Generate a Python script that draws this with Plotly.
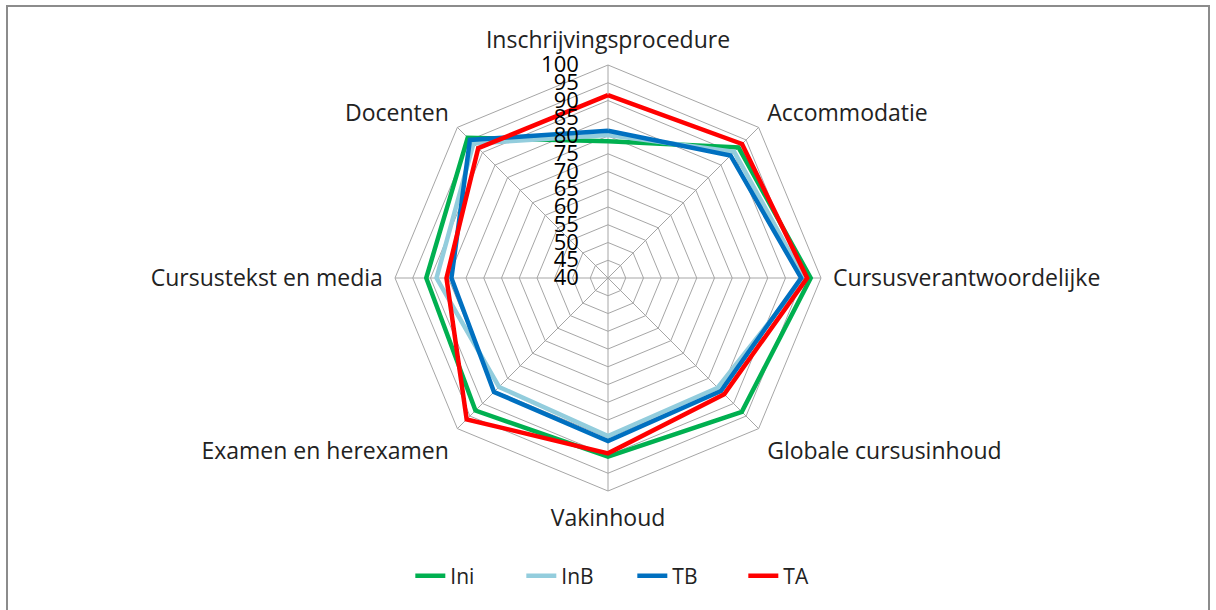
import plotly.graph_objects as go

categories = ["Inschrijvingsprocedure", "Accommodatie", "Cursusverantwoordelijke",
              "Globale cursusinhoud", "Vakinhoud", "Examen en herexamen",
              "Cursustekst en media", "Docenten"]
ini = [78.5, 92.0, 97.1, 93.3, 90.3, 92.8, 91.2, 95.9]
inb = [80.3, 90.3, 95.2, 83.7, 84.5, 83.4, 88.3, 93.6]
tb = [81.5, 88.8, 94.4, 85.0, 85.9, 85.4, 84.1, 95.0]
ta = [91.5, 93.4, 96.1, 86.3, 89.4, 96.3, 85.5, 91.7]

series = [("Ini", ini, "#00B050"), ("InB", inb, "#93CDDD"),
          ("TB", tb, "#0070C0"), ("TA", ta, "#FF0000")]

tick_vals = list(range(40, 101, 5))

fig = go.Figure()
for name, vals, color in series:
    fig.add_trace(go.Scatterpolar(
        r=vals + [vals[0]], theta=categories + [categories[0]],
        mode="lines", name=name,
        line=dict(color=color, width=4.5),
    ))

W, H = 1216, 610
cx, cy, R = 608, 278, 213
FONT = "Open Sans, Calibri, sans-serif"
fig.update_layout(
    width=W, height=H,
    margin=dict(l=0, r=0, t=0, b=0),
    paper_bgcolor="white",
    font=dict(family=FONT, color="#222222", size=20),
    polar=dict(
        domain=dict(x=[(cx - R) / W, (cx + R) / W],
                    y=[(H - cy - R) / H, (H - cy + R) / H]),
        bgcolor="white",
        gridshape="linear",
        radialaxis=dict(range=[40, 100], tickvals=tick_vals, angle=90,
                        side="counterclockwise", tickangle=90,
                        showline=False, gridcolor="#A6A6A6", gridwidth=1,
                        ticks="outside", ticklen=21, tickcolor="rgba(0,0,0,0)",
                        tickfont=dict(family=FONT, size=22, color="#000000")),
        angularaxis=dict(rotation=90, direction="clockwise",
                         categoryorder="array", categoryarray=categories,
                         showline=True, linecolor="#A6A6A6", linewidth=1,
                         gridcolor="#A6A6A6", gridwidth=1,
                         ticks="outside", ticklen=7, tickcolor="rgba(0,0,0,0)",
                         tickfont=dict(family=FONT, size=23, color="#222222")),
    ),
    showlegend=True,
    legend=dict(orientation="h", x=0.52, xanchor="center", y=(H - 576) / H,
                yanchor="middle", font=dict(family=FONT, size=21, color="#222222"),
                entrywidth=66, entrywidthmode="pixels", traceorder="normal"),
    shapes=[dict(type="rect", xref="paper", yref="paper",
                 x0=7 / W, x1=1209 / W, y0=-0.02, y1=(H - 6) / H,
                 line=dict(color="#8C8C8C", width=2))],
)

fig.write_html("out.html", config={"displayModeBar": False},
               post_script="document.body.style.margin='0';")
